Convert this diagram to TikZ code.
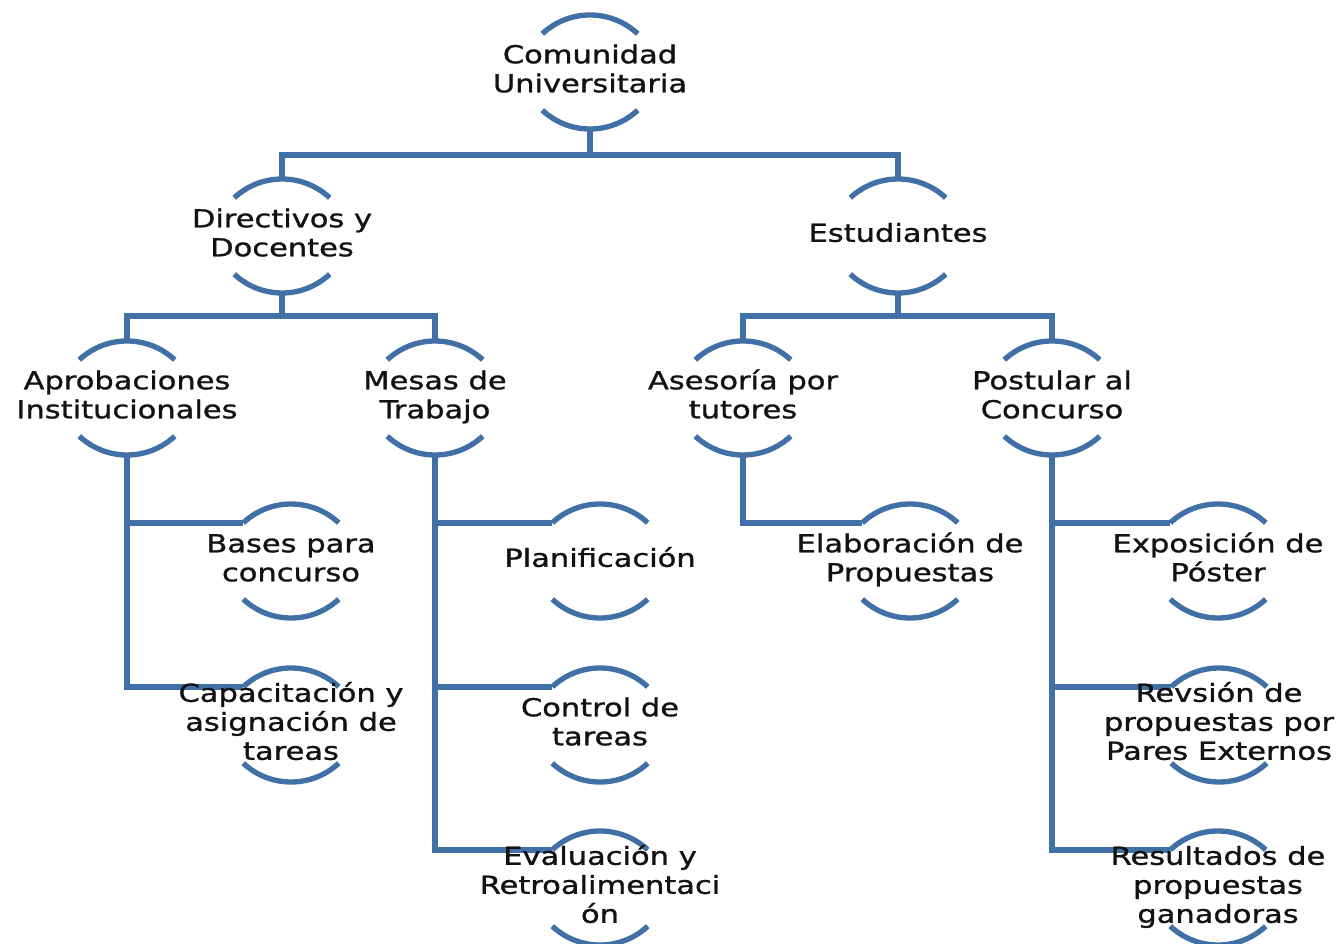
\documentclass[tikz,border=0pt]{standalone}
\usepackage{fontspec}
\setmainfont[FakeBold=1.0]{DejaVu Sans}
\usepackage{graphicx}
\usetikzlibrary{calc}
\definecolor{lineblue}{RGB}{64,112,166}
\definecolor{txtcol}{RGB}{18,18,18}
\newcommand\ntext[1]{\scalebox{1.23}[1]{\begin{tabular}{@{}c@{}}#1\end{tabular}}}
\tikzset{
  conn/.style={draw=lineblue, line width=4.2pt},
  arcline/.style={draw=lineblue, line width=4pt},
  lbl/.style={inner sep=0pt, text=txtcol, font=\fontsize{18.6pt}{21.75pt}\selectfont}
}
\begin{document}
\begin{tikzpicture}[x=0.75pt,y=0.75pt]
\useasboundingbox (0,0) rectangle (1338,-944);
\def\unitlist{root/590/72/{Comunidad\\Universitaria},
  dir/282/236/{Directivos y\\Docentes},
  est/898/236/{Estudiantes},
  apr/127/398/{Aprobaciones\\Institucionales},
  mes/435/398/{Mesas de\\Trabajo},
  ase/743/398/{Asesoría por\\tutores},
  pos/1052/398/{Postular al\\Concurso},
  bas/291/561/{Bases para\\concurso},
  cap/291/725/{Capacitación y\\asignación de\\tareas},
  pla/600/561/{Planificación},
  con/600/725/{Control de\\tareas},
  eva/600/888/{Evaluación y\\Retroalimentaci\\ón},
  ela/910/561/{Elaboración de\\Propuestas},
  exp/1218/561/{Exposición de\\Póster},
  rev/1219/725/{Revsión de\\propuestas por\\Pares Externos},
  res/1218/888/{Resultados de\\propuestas\\ganadoras}}
% coordinates
\foreach \n/\x/\y/\t in \unitlist {
  \coordinate (\n) at (\x,-\y);
  \coordinate (\n-top) at ($(\n)+(0,42.75pt)$);
  \coordinate (\n-bot) at ($(\n)+(0,-42.75pt)$);
  \coordinate (\n-l) at ($(\n)+(0,-9.75pt)+(133:52.5pt)$);
}
% connectors
\draw[conn] (root-bot) -- ++(0,-26) -| (dir-top);
\draw[conn] (root-bot) -- ++(0,-26) -| (est-top);
\draw[conn] (dir-bot) -- ++(0,-23) -| (apr-top);
\draw[conn] (dir-bot) -- ++(0,-23) -| (mes-top);
\draw[conn] (est-bot) -- ++(0,-23) -| (ase-top);
\draw[conn] (est-bot) -- ++(0,-23) -| (pos-top);
\draw[conn] (apr-bot) |- (bas-l);
\draw[conn] (apr-bot) |- (cap-l);
\draw[conn] (mes-bot) |- (pla-l);
\draw[conn] (mes-bot) |- (con-l);
\draw[conn] (mes-bot) |- (eva-l);
\draw[conn] (ase-bot) |- (ela-l);
\draw[conn] (pos-bot) |- (exp-l);
\draw[conn] (pos-bot) |- (rev-l);
\draw[conn] (pos-bot) |- (res-l);
% arcs and texts
\foreach \n/\x/\y/\t in \unitlist {
  \draw[arcline] ($(\n)+(0,-9.75pt)+(47:52.5pt)$) arc[start angle=47,end angle=133,radius=52.5pt];
  \draw[arcline] ($(\n)+(0,9.75pt)+(-47:52.5pt)$) arc[start angle=-47,end angle=-133,radius=52.5pt];
}
\foreach \n/\x/\y/\t in \unitlist {
  \node[lbl] (\n-t) at (\n) {\ntext{\t}};
}
\end{tikzpicture}
\end{document}
